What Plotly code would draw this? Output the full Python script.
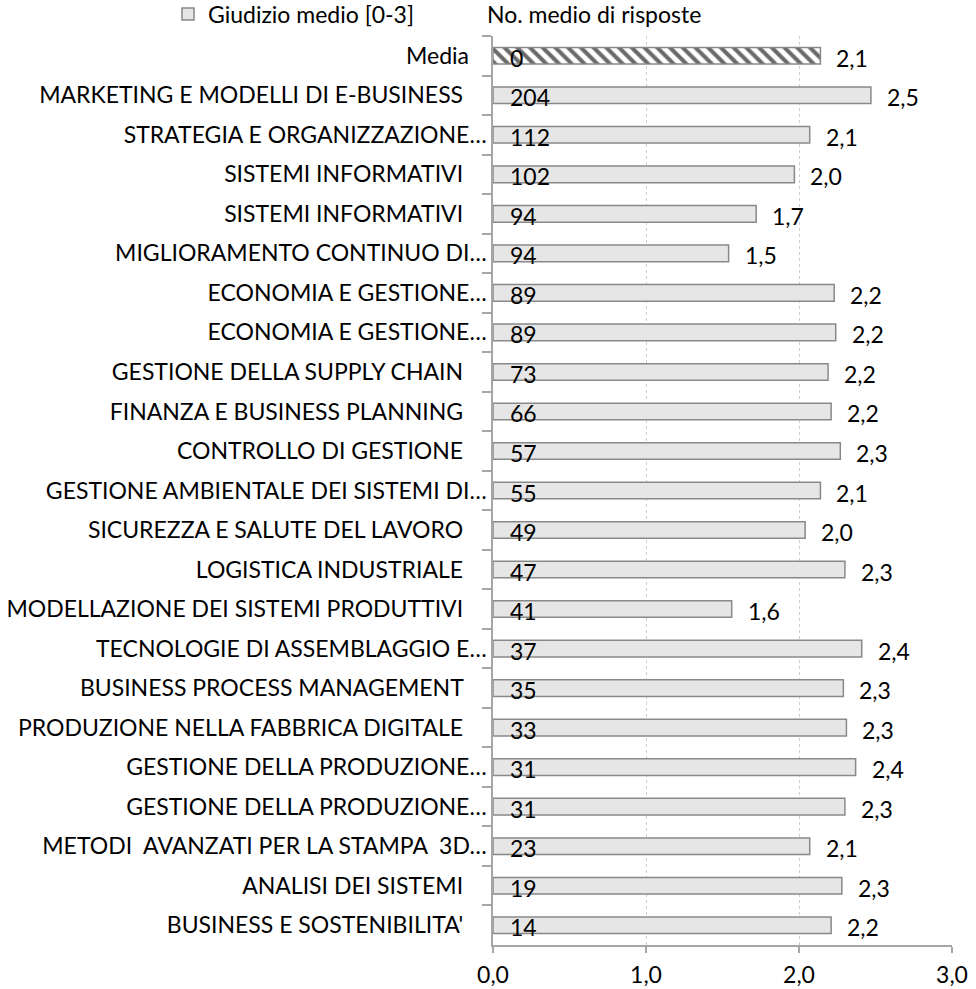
import plotly.graph_objects as go

labels = [
    "Media",
    "MARKETING E MODELLI DI E-BUSINESS",
    "STRATEGIA E ORGANIZZAZIONE…",
    "SISTEMI INFORMATIVI",
    "SISTEMI INFORMATIVI",
    "MIGLIORAMENTO CONTINUO DI…",
    "ECONOMIA E GESTIONE…",
    "ECONOMIA E GESTIONE…",
    "GESTIONE DELLA SUPPLY CHAIN",
    "FINANZA E BUSINESS PLANNING",
    "CONTROLLO DI GESTIONE",
    "GESTIONE AMBIENTALE DEI SISTEMI DI…",
    "SICUREZZA E SALUTE DEL LAVORO",
    "LOGISTICA INDUSTRIALE",
    "MODELLAZIONE DEI SISTEMI PRODUTTIVI",
    "TECNOLOGIE DI ASSEMBLAGGIO E…",
    "BUSINESS PROCESS MANAGEMENT",
    "PRODUZIONE NELLA FABBRICA DIGITALE",
    "GESTIONE DELLA PRODUZIONE…",
    "GESTIONE DELLA PRODUZIONE…",
    "METODI  AVANZATI PER LA STAMPA  3D…",
    "ANALISI DEI SISTEMI",
    "BUSINESS E SOSTENIBILITA'",
]
giudizio = [2.14, 2.47, 2.07, 1.97, 1.72, 1.54, 2.23, 2.24, 2.19, 2.21, 2.27, 2.14,
            2.04, 2.30, 1.56, 2.41, 2.29, 2.31, 2.37, 2.30, 2.07, 2.28, 2.21]
risposte = [0, 204, 112, 102, 94, 94, 89, 89, 73, 66, 57, 55, 49, 47, 41, 37, 35, 33,
            31, 31, 23, 19, 14]
x_ticks = [0, 1, 2, 3]

FONT = "Lato"
FS = 23

# unique category keys with display text padded like the original
cats = []
seen = {}
for lab in labels:
    n = seen.get(lab, 0)
    seen[lab] = n + 1
    if lab.endswith("…"):
        disp = lab
    elif lab == "Media":
        disp = lab + "\u00a0" * 3
    else:
        disp = lab + "\u00a0" * 4
    cats.append(disp + "\u200b" * n)

is_media = [lab == "Media" for lab in labels]
cats_media = [c for c, m in zip(cats, is_media) if m]
val_media = [v for v, m in zip(giudizio, is_media) if m]
cats_rest = [c for c, m in zip(cats, is_media) if not m]
val_rest = [v for v, m in zip(giudizio, is_media) if not m]

fig = go.Figure()
fig.add_trace(go.Bar(
    y=cats_rest, x=val_rest, orientation="h", name="Giudizio medio [0-3]",
    width=0.42,
    marker=dict(color="#e6e6e6", line=dict(color="#898989", width=1.5)),
    showlegend=True, hoverinfo="skip",
))
fig.add_trace(go.Bar(
    y=cats_media, x=val_media, orientation="h", name="Media",
    width=0.42,
    marker=dict(color="#ffffff", line=dict(color="#898989", width=1.5),
                pattern=dict(shape="\\", fgcolor="#6a6a6a", bgcolor="#ffffff",
                             size=9, solidity=0.45)),
    showlegend=False, hoverinfo="skip",
))

annotations = []
for c, v, r in zip(cats, giudizio, risposte):
    annotations.append(dict(x=v, y=c, xref="x", yref="y", text=f"{v:.1f}".replace(".", ","),
                            showarrow=False, xanchor="left", yanchor="middle", xshift=14, yshift=-2,
                            font=dict(family=FONT, size=FS, color="#000000")))
    annotations.append(dict(x=0, y=c, xref="x", yref="y", text=str(r),
                            showarrow=False, xanchor="left", yanchor="middle", xshift=15, yshift=-2,
                            font=dict(family=FONT, size=FS, color="#000000")))

W, H = 976, 989
L, R, T, B = 493, 24, 36, 44
pw = W - L - R
ph = H - T - B
annotations.append(dict(x=(485 - L) / pw, y=1 + (T - 14) / ph, xref="paper", yref="paper",
                        text="No. medio di risposte", showarrow=False,
                        xanchor="left", yanchor="middle",
                        font=dict(family=FONT, size=FS, color="#000000")))

fig.update_layout(
    template="none",
    width=W, height=H,
    margin=dict(l=L, r=R, t=T, b=B, pad=0, autoexpand=False),
    paper_bgcolor="#ffffff", plot_bgcolor="#ffffff",
    font=dict(family=FONT, size=FS, color="#000000"),
    separators=",.",
    barmode="overlay",
    showlegend=True,
    legend=dict(orientation="h", xref="container", yref="container",
                x=168 / W, y=1 - 14 / H, xanchor="left", yanchor="middle",
                font=dict(family=FONT, size=FS, color="#000000"),
                bgcolor="rgba(0,0,0,0)", borderwidth=0,
                itemwidth=30, tracegroupgap=0),
    annotations=annotations,
    xaxis=dict(range=[0, 3], tickvals=x_ticks, tickformat=".1f", automargin=False,
               showgrid=True, gridcolor="#cfcfcf", griddash="3px,3px", gridwidth=1,
               zeroline=False, showline=True, linecolor="#a6a6a6", linewidth=1.5,
               ticks="outside", ticklen=6, tickcolor="#a6a6a6", tickwidth=1.5,
               ticklabelstandoff=3,
               tickfont=dict(family=FONT, size=FS, color="#000000"), fixedrange=True),
    yaxis=dict(autorange="reversed", type="category", automargin=False,
               categoryorder="array", categoryarray=cats,
               showgrid=False, zeroline=False, showline=True, linecolor="#a6a6a6", linewidth=1.5,
               ticks="outside", ticklen=9, tickcolor="#a6a6a6", tickwidth=1.5,
               tickson="boundaries", ticklabelstandoff=0,
               tickfont=dict(family=FONT, size=FS, color="#000000"), fixedrange=True),
)

fig.write_html("out.html", config={"displayModeBar": False},
               post_script="document.body.style.margin='0';document.body.style.overflow='hidden';")
